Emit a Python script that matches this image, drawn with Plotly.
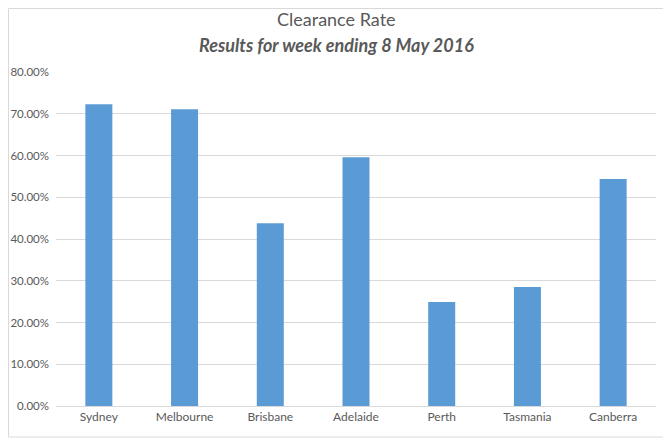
"""Clearance rate bar chart."""
import plotly.graph_objects as go

cities = ["Sydney", "Melbourne", "Brisbane", "Adelaide", "Perth", "Tasmania", "Canberra"]
clearance_rates = [0.723, 0.711, 0.438, 0.596, 0.249, 0.285, 0.544]
y_ticks = [0, 0.1, 0.2, 0.3, 0.4, 0.5, 0.6, 0.7, 0.8]

# plot area in figure pixels (page body adds an 8px offset)
PLOT_W, PLOT_H = 600, 334
LEFT, TOP = 48, 64

fig = go.Figure(
    go.Bar(
        x=cities,
        y=clearance_rates,
        marker_color="#5B9BD5",
        marker_line_width=0,
    )
)

fig.update_layout(
    width=663,
    height=430,
    paper_bgcolor="white",
    plot_bgcolor="white",
    font=dict(family="Lato, Open Sans, sans-serif", color="#595959", size=12),
    margin=dict(l=LEFT, r=15, t=TOP, b=32),
    bargap=0.685,
    showlegend=False,
    xaxis=dict(
        showline=True,
        linecolor="#d9d9d9",
        linewidth=1,
        ticks="",
        automargin=False,
        tickfont=dict(size=12, color="#595959"),
    ),
    yaxis=dict(
        range=[0, 0.8],
        tickvals=y_ticks,
        tickformat=".2%",
        gridcolor="#d9d9d9",
        gridwidth=1,
        zeroline=False,
        ticks="",
        automargin=False,
        ticklabelstandoff=6,
        tickfont=dict(size=11.5, color="#595959"),
    ),
    annotations=[
        dict(
            text="Clearance Rate",
            xref="paper",
            yref="paper",
            x=(328 - LEFT) / PLOT_W,
            y=1 + 53 / PLOT_H,
            xanchor="center",
            yanchor="middle",
            borderpad=0,
            showarrow=False,
            font=dict(size=18, color="#595959"),
        ),
        dict(
            text="<b><i>Results for week ending 8 May 2016</i></b>",
            xref="paper",
            yref="paper",
            x=(328 - LEFT) / PLOT_W,
            y=1 + 27 / PLOT_H,
            xanchor="center",
            yanchor="middle",
            borderpad=0,
            showarrow=False,
            font=dict(size=18, color="#595959"),
        ),
    ],
    shapes=[
        dict(
            type="rect",
            xref="paper",
            yref="paper",
            x0=-(LEFT - 0.5) / PLOT_W,
            x1=1 + 14 / PLOT_W,
            y0=-31 / PLOT_H,
            y1=1 + (TOP - 0.5) / PLOT_H,
            line=dict(color="#d9d9d9", width=1),
            fillcolor="rgba(0,0,0,0)",
            layer="below",
        )
    ],
)

fig.write_html("out.html")
